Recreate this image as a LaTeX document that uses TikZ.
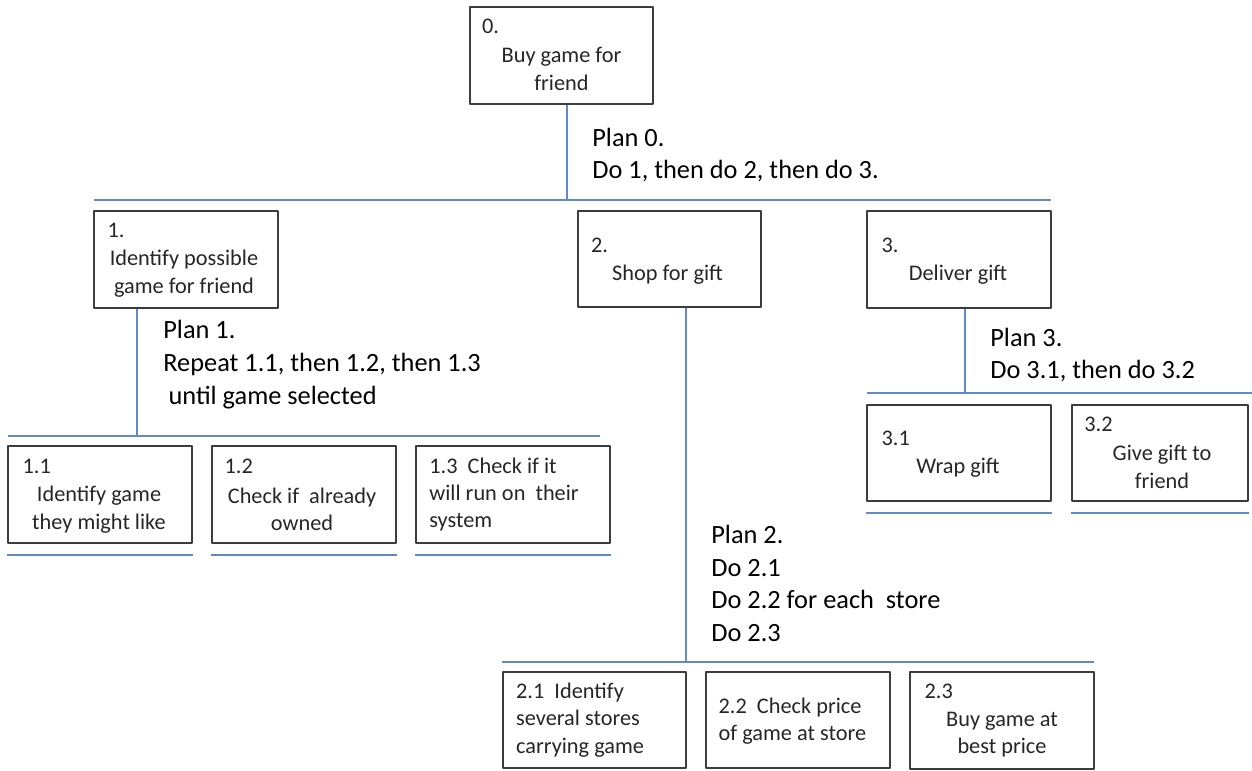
\documentclass[tikz,border=0pt]{standalone}
\usepackage{fontspec}
\setmainfont{Carlito}
\definecolor{linkblue}{RGB}{95,140,200}
\definecolor{boxgray}{RGB}{60,60,60}
\newcommand{\boxfont}{\fontsize{12.7}{15.6}\selectfont}
\newcommand{\planfont}{\fontsize{15}{18.7}\selectfont}
\begin{document}
\begin{tikzpicture}[x=0.02cm, y=-0.02cm, line join=round,
    task/.style={draw=boxgray, line width=1.1pt, inner sep=0pt, minimum width=3.67cm, minimum height=1.93cm},
    num/.style={anchor=west, inner sep=0pt, font=\boxfont, text=black!85},
    txt/.style={align=center, inner sep=0pt, font=\boxfont, text=black!85},
    ltxt/.style={align=left, anchor=west, inner sep=0pt, font=\boxfont, text=black!85},
    plan/.style={align=left, anchor=west, inner sep=0pt, font=\planfont},
    link/.style={draw=linkblue, line width=1.1pt}]
    \useasboundingbox (0,0) rectangle (1252,771);
    % boxes
    \node[task] (t0) at (561.5,55.5) {};
    \node[task] (t1) at (186,259.5) {};
    \node[task] (t2) at (669.5,259) {};
    \node[task] (t3) at (959,259.5) {};
    \node[task] (t11) at (100,494.5) {};
    \node[task] (t12) at (304,494.5) {};
    \node[task, minimum width=3.88cm] (t13) at (513,494.5) {};
    \node[task] (t21) at (594.5,720) {};
    \node[task] (t22) at (798,720) {};
    \node[task] (t23) at (1002,720.5) {};
    \node[task] (t31) at (959,453) {};
    \node[task, minimum width=3.52cm] (t32) at (1160,453) {};
    % texts in the boxes
    \node[num] (n0) at ([shift={(13,20)}]t0.north west) {0.};
    \node[txt] (x0) at ([shift={(0,13.5)}]t0.center) {Buy game for\\friend};
    \node[num] (n1) at ([shift={(14,20)}]t1.north west) {1.};
    \node[txt] (x1) at ([shift={(-2,14)}]t1.center) {Identify possible\\game for friend};
    \node[num] (n2) at ([shift={(14,36)}]t2.north west) {2.};
    \node[txt] (x2) at ([shift={(-2,16)}]t2.center) {Shop for gift};
    \node[num] (n3) at ([shift={(15,35)}]t3.north west) {3.};
    \node[txt] (x3) at ([shift={(-1,15.5)}]t3.center) {Deliver gift};
    \node[num] (n11) at ([shift={(15,21)}]t11.north west) {1.1};
    \node[txt] (x11) at ([shift={(-1,15)}]t11.center) {Identify game\\they might like};
    \node[num] (n12) at ([shift={(13,21)}]t12.north west) {1.2};
    \node[txt] (x12) at ([shift={(-2,15)}]t12.center) {Check if\ \ already\\owned};
    \node[ltxt] (x13) at ([shift={(14,0)}]t13.west) {1.3\ \ Check if it\\will run on\ \ their\\system};
    \node[ltxt] (x21) at ([shift={(14,0)}]t21.west) {2.1\ \ Identify\\several stores\\carrying game};
    \node[ltxt] (x22) at ([shift={(13,1)}]t22.west) {2.2\ \ Check price\\of game at store};
    \node[num] (n23) at ([shift={(15,20)}]t23.north west) {2.3};
    \node[txt] (x23) at ([shift={(0,14)}]t23.center) {Buy game at\\best price};
    \node[num] (n31) at ([shift={(15,35)}]t31.north west) {3.1};
    \node[txt] (x31) at ([shift={(-1,15)}]t31.center) {Wrap gift};
    \node[num] (n32) at ([shift={(13,21)}]t32.north west) {3.2};
    \node[txt] (x32) at ([shift={(2,14)}]t32.center) {Give gift to\\friend};
    % bars and joints
    \coordinate (b0w) at (94,200);  \coordinate (b0e) at (1051,200); \coordinate (j0) at (567,200);
    \coordinate (b1w) at (8,436);   \coordinate (b1e) at (600,436);  \coordinate (j1) at (137,436);
    \coordinate (b2w) at (502,662); \coordinate (b2e) at (1094,662); \coordinate (j2) at (686,662);
    \coordinate (b3w) at (867,393); \coordinate (b3e) at (1252,393); \coordinate (j3) at (965,393);
    \draw[link] (b0w) -- (b0e);
    \draw[link] (t0.south -| j0) -- (j0);
    \draw[link] (b1w) -- (b1e);
    \draw[link] (t1.south -| j1) -- (j1);
    \draw[link] (b2w) -- (b2e);
    \draw[link] (t2.south -| j2) -- (j2);
    \draw[link] (b3w) -- (b3e);
    \draw[link] (t3.south -| j3) -- (j3);
    \foreach \n in {t11,t12,t13,t31,t32}
        \draw[link] ([shift={(0,11)}]\n.south west) -- ([shift={(0,11)}]\n.south east);
    % plans
    \node[plan] (p0) at ([shift={(25,-45)}]j0) {Plan 0.\\Do 1, then do 2, then do 3.};
    \node[plan] (p1) at ([shift={(26,-71.5)}]j1) {Plan 1.\\Repeat 1.1, then 1.2, then 1.3\\\hspace*{0.2em}until game selected};
    \node[plan] (p2) at ([shift={(25,-78.5)}]j2) {Plan 2.\\Do 2.1\\Do 2.2 for each\ \ store\\Do 2.3};
    \node[plan] (p3) at ([shift={(25,-38)}]j3) {Plan 3.\\Do 3.1, then do 3.2};
\end{tikzpicture}
\end{document}
